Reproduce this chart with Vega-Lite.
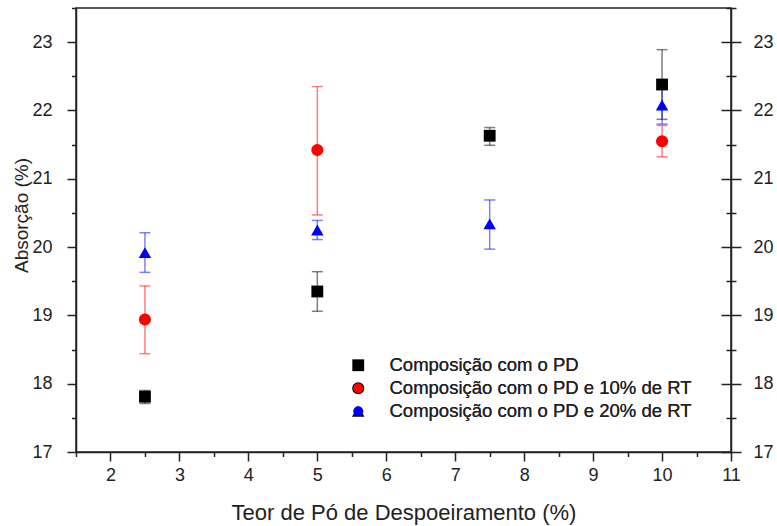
{
  "$schema": "https://vega.github.io/schema/vega-lite/v6.json",
  "width": 655,
  "height": 444,
  "autosize": {"type": "none"},
  "padding": {"left": 76, "top": 8, "right": 46, "bottom": 74},
  "data": {
    "values": [
      {"serie": "Composição com o PD", "teor": 2.5, "absorcao": 17.81, "min": 17.71, "max": 17.9},
      {"serie": "Composição com o PD", "teor": 5, "absorcao": 19.35, "min": 19.06, "max": 19.64},
      {"serie": "Composição com o PD", "teor": 7.5, "absorcao": 21.63, "min": 21.49, "max": 21.75},
      {"serie": "Composição com o PD", "teor": 10, "absorcao": 22.38, "min": 21.87, "max": 22.89},
      {"serie": "Composição com o PD e 10% de RT", "teor": 2.5, "absorcao": 18.94, "min": 18.44, "max": 19.43},
      {"serie": "Composição com o PD e 10% de RT", "teor": 5, "absorcao": 21.42, "min": 20.47, "max": 22.35},
      {"serie": "Composição com o PD e 10% de RT", "teor": 10, "absorcao": 21.55, "min": 21.32, "max": 21.78},
      {"serie": "Composição com o PD e 20% de RT", "teor": 2.5, "absorcao": 19.92, "min": 19.63, "max": 20.21},
      {"serie": "Composição com o PD e 20% de RT", "teor": 5, "absorcao": 20.25, "min": 20.11, "max": 20.39},
      {"serie": "Composição com o PD e 20% de RT", "teor": 7.5, "absorcao": 20.34, "min": 19.97, "max": 20.69},
      {"serie": "Composição com o PD e 20% de RT", "teor": 10, "absorcao": 22.08, "min": 21.8, "max": 22.36}
    ]
  },
  "resolve": {"axis": {"x": "independent", "y": "independent"}, "legend": {"color": "independent"}},
  "layer": [
    {
      "mark": {"type": "rule", "strokeWidth": 1.5, "opacity": 0.5},
      "encoding": {
        "x": {
          "field": "teor", "type": "quantitative",
          "scale": {"domain": [1.5, 11], "nice": false, "zero": false},
          "axis": {
            "orient": "bottom",
            "title": "Teor de Pó de Despoeiramento (%)",
            "values": [1.5, 2, 2.5, 3, 3.5, 4, 4.5, 5, 5.5, 6, 6.5, 7, 7.5, 8, 8.5, 9, 9.5, 10, 10.5, 11],
            "labelExpr": "datum.value % 1 === 0 ? '' + datum.value : ''",
            "tickSize": {"condition": {"test": "datum.value % 1 !== 0", "value": 4.5}, "value": 9},
            "labelPadding": 14,
            "labelBaseline": "middle",
            "titleFontSize": 22,
            "titleBaseline": "alphabetic",
            "titleY": 67
          }
        },
        "y": {
          "field": "min", "type": "quantitative",
          "scale": {"domain": [17, 23.5], "nice": false, "zero": false},
          "axis": {
            "orient": "left",
            "title": "Absorção (%)",
            "values": [17, 17.5, 18, 18.5, 19, 19.5, 20, 20.5, 21, 21.5, 22, 22.5, 23, 23.5],
            "labelExpr": "datum.value % 1 === 0 ? '' + datum.value : ''",
            "tickSize": {"condition": {"test": "datum.value % 1 !== 0", "value": 4.5}, "value": 9},
            "labelPadding": 15,
            "titleAngle": 270,
            "titleBaseline": "alphabetic",
            "titleAlign": "center",
            "titleX": -49,
            "titleY": 207
          }
        },
        "y2": {"field": "max"},
        "color": {
          "field": "serie", "type": "nominal",
          "scale": {"domain": ["Composição com o PD", "Composição com o PD e 10% de RT", "Composição com o PD e 20% de RT"], "range": ["#000000", "#ff0000", "#0000ff"]},
          "legend": null
        }
      }
    },
    {
      "mark": {"type": "rule", "strokeWidth": 1.5, "opacity": 0.5, "xOffset": -5.5, "x2Offset": 5.5},
      "encoding": {
        "x": {"field": "teor", "type": "quantitative", "scale": {"domain": [1.5, 11], "nice": false, "zero": false}, "axis": null},
        "x2": {"field": "teor"},
        "y": {
          "field": "min", "type": "quantitative",
          "scale": {"domain": [17, 23.5], "nice": false, "zero": false},
          "axis": {
            "orient": "right",
            "title": null,
            "values": [17, 17.5, 18, 18.5, 19, 19.5, 20, 20.5, 21, 21.5, 22, 22.5, 23, 23.5],
            "labelExpr": "datum.value % 1 === 0 ? '' + datum.value : ''",
            "tickSize": {"condition": {"test": "datum.value % 1 !== 0", "value": 5}, "value": 10},
            "labelPadding": 12
          }
        },
        "color": {"field": "serie", "type": "nominal", "legend": null}
      }
    },
    {
      "mark": {"type": "rule", "strokeWidth": 1.5, "opacity": 0.5, "xOffset": -5.5, "x2Offset": 5.5},
      "encoding": {
        "x": {"field": "teor", "type": "quantitative", "scale": {"domain": [1.5, 11], "nice": false, "zero": false}, "axis": null},
        "x2": {"field": "teor"},
        "y": {
          "field": "max", "type": "quantitative",
          "scale": {"domain": [17, 23.5], "nice": false, "zero": false},
          "axis": {
            "orient": "right",
            "title": null,
            "values": [17, 17.5, 18, 18.5, 19, 19.5, 20, 20.5, 21, 21.5, 22, 22.5, 23, 23.5],
            "labels": false,
            "domain": false,
            "tickSize": {"condition": {"test": "datum.value % 1 !== 0", "value": -5}, "value": -10}
          }
        },
        "color": {"field": "serie", "type": "nominal", "legend": null}
      }
    },
    {
      "mark": {"type": "point", "filled": true, "opacity": 1},
      "encoding": {
        "x": {"field": "teor", "type": "quantitative", "scale": {"domain": [1.5, 11], "nice": false, "zero": false}, "axis": null},
        "y": {"field": "absorcao", "type": "quantitative", "scale": {"domain": [17, 23.5], "nice": false, "zero": false}, "axis": null},
        "color": {
          "field": "serie", "type": "nominal",
          "legend": {"title": null, "orient": "none", "legendX": 273, "legendY": 348}
        },
        "shape": {
          "field": "serie", "type": "nominal",
          "scale": {"domain": ["Composição com o PD", "Composição com o PD e 10% de RT", "Composição com o PD e 20% de RT"], "range": ["square", "circle", "triangle-up"]},
          "legend": {"title": null, "orient": "none", "legendX": 273, "legendY": 348}
        },
        "size": {
          "field": "serie", "type": "nominal",
          "scale": {"domain": ["Composição com o PD", "Composição com o PD e 10% de RT", "Composição com o PD e 20% de RT"], "range": [140, 155, 220]},
          "legend": {"title": null, "orient": "none", "legendX": 273, "legendY": 348}
        }
      }
    }
  ],
  "config": {
    "font": "Liberation Sans",
    "background": "white",
    "view": {"stroke": "#222222", "strokeWidth": 1.5},
    "axis": {
      "grid": false,
      "domainColor": "#222222",
      "domainWidth": 1.5,
      "tickColor": "#222222",
      "tickWidth": 1.5,
      "labelColor": "#222222",
      "titleColor": "#222222",
      "labelFont": "Liberation Sans",
      "titleFont": "Liberation Sans",
      "labelFontSize": 18,
      "titleFontSize": 19,
      "titleFontWeight": "normal",
      "labelFlush": false,
      "labelOverlap": false
    },
    "legend": {
      "labelFont": "Liberation Sans",
      "labelFontSize": 18.5,
      "labelColor": "#222222",
      "labelLimit": 400,
      "symbolStrokeWidth": 0,
      "rowPadding": 4,
      "labelOffset": 22,
      "symbolOpacity": 1
    }
  }
}
